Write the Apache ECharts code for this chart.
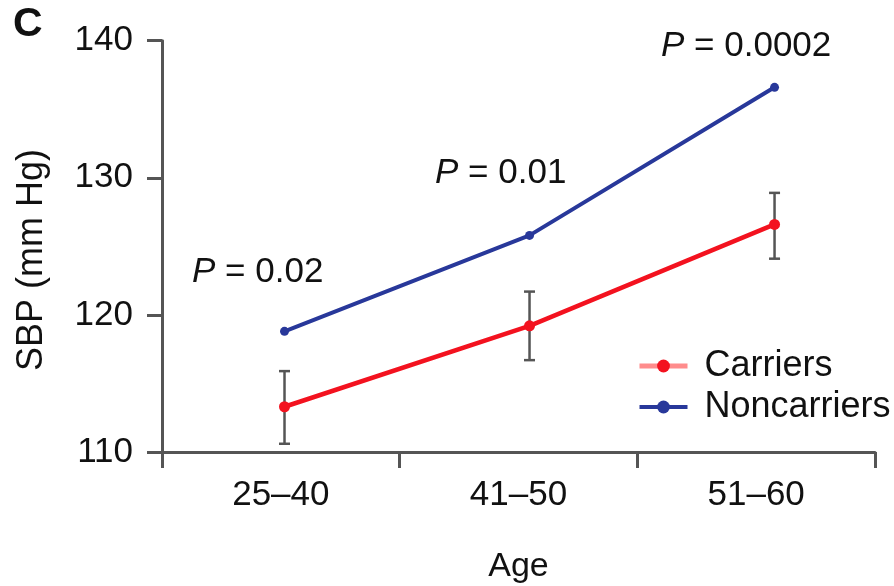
<!DOCTYPE html>
<html><head><meta charset="utf-8">
<script src="https://cdn.jsdelivr.net/npm/echarts@6/dist/echarts.min.js"></script>
<style>html,body{margin:0;padding:0;background:#fff}#c{width:894px;height:586px}</style>
</head><body><div id="c"></div>
<script>
const categories = ['25–40', '41–50', '51–60'];
const carriers = [113.3, 119.2, 126.6];
const noncarriers = [118.8, 125.8, 136.6];
const carriersLow = [110.6, 116.7, 124.1];
const carriersHigh = [115.9, 121.7, 128.9];
const pValues = ['0.02', '0.01', '0.0002'];

const FF = '"Liberation Sans", Arial, Helvetica, sans-serif';
const TXT = '#111111';
const AX = '#555555';
const RED = '#f3121f';
const BLUE = '#28389a';

const chart = echarts.init(document.getElementById('c'), null, {renderer: 'canvas'});

const pPos = [[192, 272.5], [435, 173.5], [661, 46.5]];
const pTexts = pValues.map((p, i) => ({
  type: 'text', x: pPos[i][0], y: pPos[i][1],
  style: {
    text: '{i|P} = ' + p,
    fontSize: 35, fontFamily: FF, fill: TXT,
    align: 'left', verticalAlign: 'middle', textAlign: 'left', textVerticalAlign: 'middle',
    rich: {i: {fontStyle: 'italic', fontSize: 35, fontFamily: FF, fill: TXT}}
  }
}));

chart.setOption({
  animation: false,
  backgroundColor: '#ffffff',
  grid: {left: 162, right: 19, top: 40.7, bottom: 134, containLabel: false, outerBoundsMode: 'none'},
  xAxis: [{
    type: 'category', data: categories, boundaryGap: true,
    axisLine: {show: true, lineStyle: {color: AX, width: 3}},
    axisTick: {show: true, length: 16, lineStyle: {color: AX, width: 3}},
    axisLabel: {fontSize: 35, fontFamily: FF, color: TXT, margin: 26},
    splitLine: {show: false},
    name: 'Age', nameLocation: 'middle', nameGap: 98,
    nameTextStyle: {fontSize: 34, fontFamily: FF, color: TXT}
  }, {
    type: 'value', min: 0.5, max: 3.41, show: false
  }],
  yAxis: {
    type: 'value', min: 110, max: 140, interval: 10,
    axisLine: {show: true, lineStyle: {color: AX, width: 3}},
    axisTick: {show: true, length: 15, lineStyle: {color: AX, width: 3}},
    axisLabel: {fontSize: 35, fontFamily: FF, color: TXT, margin: 29},
    splitLine: {show: false}
  },
  legend: {
    orient: 'vertical', left: 637, top: 348, padding: 0,
    itemWidth: 48, itemHeight: 16, itemGap: 5,
    textStyle: {fontSize: 36, fontFamily: FF, color: TXT, lineHeight: 36, padding: [0, 0, 0, 12]},
    data: [
      {name: 'Carriers', itemStyle: {color: RED}, lineStyle: {color: '#ff8c8c', width: 5}},
      {name: 'Noncarriers', itemStyle: {color: BLUE}, lineStyle: {color: BLUE, width: 4}}
    ]
  },
  graphic: [
    {type: 'text', x: 13, y: 25, style: {text: 'C', fontSize: 41, fontWeight: 'bold', fontFamily: FF, fill: '#111',
      align: 'left', verticalAlign: 'middle', textAlign: 'left', textVerticalAlign: 'middle'}},
    {type: 'text', x: 32, y: 260, rotation: Math.PI / 2, style: {text: 'SBP (mm Hg)', fontSize: 36, fontFamily: FF, fill: TXT,
      align: 'center', verticalAlign: 'middle', textAlign: 'center', textVerticalAlign: 'middle'}}
  ].concat(pTexts),
  series: [
    {
      type: 'custom', name: 'err', xAxisIndex: 1, silent: true, z: 1,
      encode: {x: 0, y: [1, 2]},
      data: carriersLow.map((l, i) => [i + 1, l, carriersHigh[i]]),
      renderItem: function (params, api) {
        const x = api.value(0);
        const lo = api.coord([x, api.value(1)]);
        const hi = api.coord([x, api.value(2)]);
        const w = 5.5;
        const st = {stroke: AX, lineWidth: 2.5};
        return {type: 'group', children: [
          {type: 'line', shape: {x1: lo[0], y1: lo[1], x2: hi[0], y2: hi[1]}, style: st},
          {type: 'line', shape: {x1: lo[0] - w, y1: lo[1], x2: lo[0] + w, y2: lo[1]}, style: st},
          {type: 'line', shape: {x1: hi[0] - w, y1: hi[1], x2: hi[0] + w, y2: hi[1]}, style: st}
        ]};
      }
    },
    {
      type: 'line', name: 'Carriers', xAxisIndex: 1, z: 3,
      data: carriers.map((v, i) => [i + 1, v]),
      symbol: 'circle', symbolSize: 11,
      lineStyle: {color: RED, width: 4.5}, itemStyle: {color: RED}
    },
    {
      type: 'line', name: 'Noncarriers', xAxisIndex: 1, z: 3,
      data: noncarriers.map((v, i) => [i + 1, v]),
      symbol: 'circle', symbolSize: 9,
      lineStyle: {color: BLUE, width: 4}, itemStyle: {color: BLUE}
    }
  ]
});
</script>
</body></html>
